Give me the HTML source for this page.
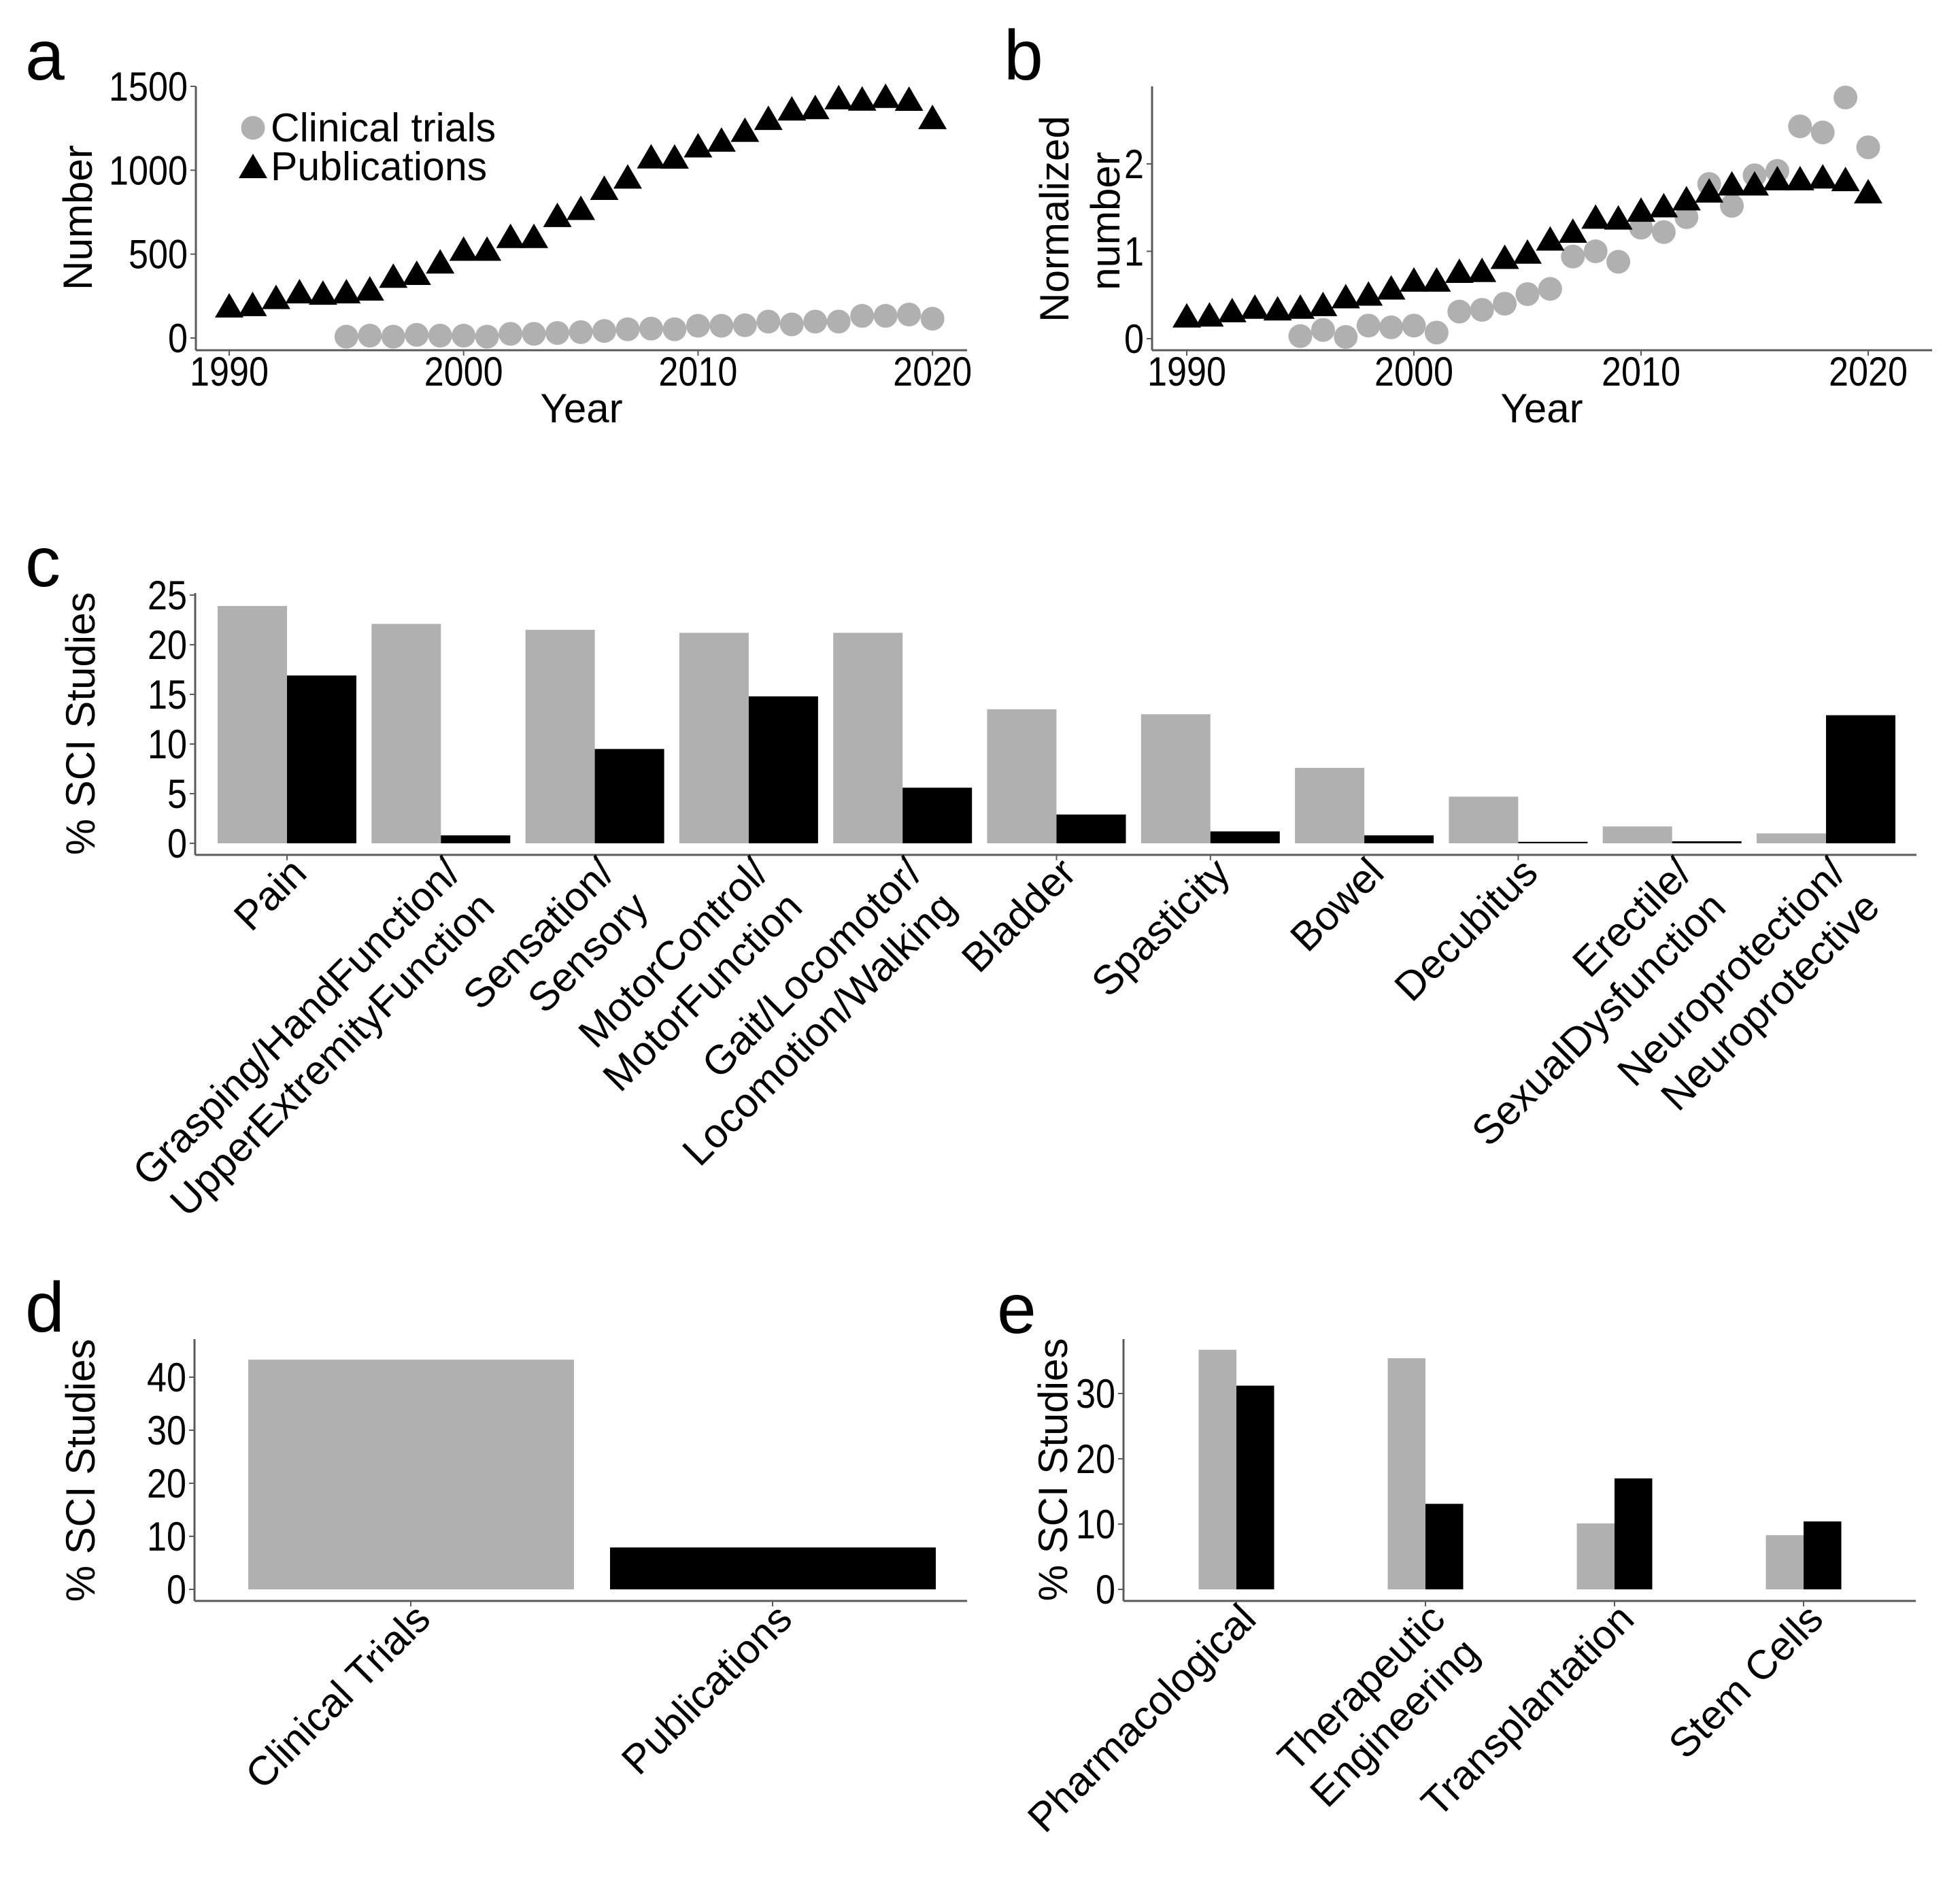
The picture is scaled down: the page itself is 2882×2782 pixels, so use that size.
<!DOCTYPE html>
<html><head><meta charset="utf-8"><title>SCI studies figure</title>
<style>
html,body{margin:0;padding:0;background:#fff;}
svg{display:block;font-family:"Liberation Sans",Arial,sans-serif;}
</style></head>
<body>
<svg id="fig" xmlns="http://www.w3.org/2000/svg" width="2882" height="2782" viewBox="0 0 2882 2782"></svg>
<script>
// ---- Panel a / b data ----
const yearsPub = [1990,1991,1992,1993,1994,1995,1996,1997,1998,1999,2000,2001,2002,2003,2004,2005,2006,2007,2008,2009,2010,2011,2012,2013,2014,2015,2016,2017,2018,2019,2020];
const pubCounts = [191,199,241,275,267,275,292,368,385,453,529,529,605,605,730,772,892,959,1079,1078,1145,1179,1238,1309,1365,1373,1432,1424,1440,1423,1314];
const yearsTrial = [1995,1996,1997,1998,1999,2000,2001,2002,2003,2004,2005,2006,2007,2008,2009,2010,2011,2012,2013,2014,2015,2016,2017,2018,2019,2020];
const trialCounts = [8,14,8,19,14,14,8,25,25,30,35,42,52,56,52,73,73,76,98,81,98,98,132,132,140,115];
const pubNorm = [0.26,0.27,0.32,0.36,0.34,0.36,0.39,0.48,0.51,0.58,0.67,0.67,0.77,0.78,0.93,0.99,1.14,1.23,1.39,1.38,1.47,1.52,1.60,1.69,1.77,1.77,1.83,1.83,1.85,1.82,1.68];
const trialNorm = [0.03,0.10,0.02,0.15,0.13,0.15,0.07,0.31,0.33,0.40,0.51,0.57,0.94,1.00,0.88,1.27,1.22,1.39,1.77,1.52,1.87,1.92,2.43,2.36,2.76,2.19];
const yearTicks = [1990,2000,2010,2020];
const aTicks = [0,500,1000,1500];
const bTicks = [0,1,2];
// ---- Panel c data ----
const cCategories = [["Pain"],["Grasping/HandFunction/","UpperExtremityFunction"],["Sensation/","Sensory"],["MotorControl/","MotorFunction"],["Gait/Locomotor/","Locomotion/Walking"],["Bladder"],["Spasticity"],["Bowel"],["Decubitus"],["Erectile/","SexualDysfunction"],["Neuroprotection/","Neuroprotective"]];
const cTrials = [23.9,22.1,21.5,21.2,21.2,13.5,13.0,7.6,4.7,1.7,1.0];
const cPubs = [16.9,0.8,9.5,14.8,5.6,2.9,1.2,0.8,0.15,0.2,12.9];
const cTicks = [0,5,10,15,20,25];
// ---- Panel d data ----
const dCategories = [["Clinical Trials"],["Publications"]];
const dValues = [43.3,7.9];
const dTicks = [0,10,20,30,40];
// ---- Panel e data ----
const eCategories = [["Pharmacological"],["Therapeutic","Engineering"],["Transplantation"],["Stem Cells"]];
const eTrials = [36.7,35.4,10.1,8.3];
const ePubs = [31.2,13.1,17.0,10.4];
const eTicks = [0,10,20,30];

const NS = "http://www.w3.org/2000/svg";
const svg = document.getElementById("fig");
const GRAY = "#b0b0b0", AX = "#5a5a5a";

function el(tag, attrs, parent, name) {
  const e = document.createElementNS(NS, tag);
  for (const k in attrs) e.setAttribute(k, attrs[k]);
  
  
  (parent || svg).appendChild(e);
  return e;
}
function text(x, y, s, size, anchor, name, extra) {
  const t = el("text", Object.assign({x: x, y: y, "font-size": size, "text-anchor": anchor, fill: "#000"}, extra || {}), svg, name);
  t.textContent = s;
  return t;
}
function tickLabel(x, y, s, anchor, name) {
  const t = text(x, y, s, 60, anchor, name, {textLength: 29 * s.length, lengthAdjust: "spacingAndGlyphs"});
  return t;
}
function axes(x0, x1, yTop, yBot, name) {
  el("line", {x1: x0, y1: yTop, x2: x0, y2: yBot, stroke: AX, "stroke-width": 3}, svg, name + "-y-axis");
  el("line", {x1: x0, y1: yBot, x2: x1, y2: yBot, stroke: AX, "stroke-width": 3}, svg, name + "-x-axis");
}
function yTicks(x0, ticks, ys, name) {
  ticks.forEach(v => {
    el("line", {x1: x0 - 8, y1: ys(v), x2: x0, y2: ys(v), stroke: AX, "stroke-width": 2}, svg, name + "-y-tick");
    tickLabel(x0 - 12, ys(v) + 21, String(v), "end", name + "-y-tick-label");
  });
}
function xTickMark(x, yBot, name) {
  el("line", {x1: x, y1: yBot, x2: x, y2: yBot + 8, stroke: AX, "stroke-width": 2}, svg, name + "-x-tick");
}
function rotTitle(x, y, s, name) {
  text(x, y, s, 60, "middle", name, {transform: "rotate(-90 " + x + " " + y + ")"});
}
function catLabel(tx, axisY, lines, name) {
  lines.forEach((ln, i) => {
    const x = tx + 32 + i * 50, y = axisY + 30 + i * 50;
    text(x, y, ln, 60, "end", name, {transform: "rotate(-45 " + x + " " + y + ")"});
  });
}
function tri(cx, cy, name) {
  el("polygon", {points: cx + "," + (cy - 19) + " " + (cx - 21) + "," + (cy + 17) + " " + (cx + 21) + "," + (cy + 17), fill: "#000"}, svg, name);
}
function dot(cx, cy, name) {
  el("circle", {cx: cx, cy: cy, r: 17.5, fill: GRAY}, svg, name);
}

// ---------- Panel a ----------
(function () {
  const xs = y => 337 + (y - 1990) * 34.47;
  const ys = v => 497 - v * 0.2467;
  text(37, 117, "a", 104, "start", "panel-a-letter");
  axes(288, 1422, 127, 515, "panel-a");
  yTicks(288, aTicks, ys, "panel-a");
  yearTicks.forEach(y => { xTickMark(xs(y), 515, "panel-a"); tickLabel(xs(y), 567, String(y), "middle", "panel-a-x-tick-label"); });
  text(855, 621, "Year", 60, "middle", "panel-a-x-axis-title");
  rotTitle(135, 320, "Number", "panel-a-y-axis-title");
  yearsTrial.forEach((y, i) => dot(xs(y), ys(trialCounts[i]), "trial-point-a"));
  yearsPub.forEach((y, i) => tri(xs(y), ys(pubCounts[i]), "publication-point-a"));
  dot(372, 188, "legend-trials-marker");
  text(398, 208, "Clinical trials", 59, "start", "legend-trials-label");
  tri(372, 245, "legend-publications-marker");
  text(398, 265, "Publications", 59, "start", "legend-publications-label");
})();

// ---------- Panel b ----------
(function () {
  const xs = y => 1745 + (y - 1990) * 33.4;
  const ys = v => 498 - v * 128.5;
  text(1476, 117, "b", 104, "start", "panel-b-letter");
  axes(1694, 2841, 127, 515, "panel-b");
  yTicks(1694, bTicks, ys, "panel-b");
  yearTicks.forEach(y => { xTickMark(xs(y), 515, "panel-b"); tickLabel(xs(y), 567, String(y), "middle", "panel-b-x-tick-label"); });
  text(2267, 621, "Year", 60, "middle", "panel-b-x-axis-title");
  rotTitle(1571, 322, "Normalized", "panel-b-y-axis-title-line1");
  rotTitle(1646, 325, "number", "panel-b-y-axis-title-line2");
  yearsTrial.forEach((y, i) => dot(xs(y), ys(trialNorm[i]), "trial-point-b"));
  yearsPub.forEach((y, i) => tri(xs(y), ys(pubNorm[i]), "publication-point-b"));
})();

// ---------- Panel c ----------
(function () {
  const ys = v => 1240 - v * 14.6;
  const cx = i => 422 + i * 226.3;
  text(37, 862, "c", 104, "start", "panel-c-letter");
  axes(287, 2818, 872, 1257, "panel-c");
  yTicks(287, cTicks, ys, "panel-c");
  rotTitle(139, 1064, "% SCI Studies", "panel-c-y-axis-title");
  cCategories.forEach((c, i) => {
    el("rect", {x: cx(i) - 102, y: ys(cTrials[i]), width: 102, height: ys(0) - ys(cTrials[i]), fill: GRAY}, svg, "bar-trials-c");
    el("rect", {x: cx(i), y: ys(cPubs[i]), width: 102, height: ys(0) - ys(cPubs[i]), fill: "#000"}, svg, "bar-publications-c");
    xTickMark(cx(i), 1257, "panel-c");
    catLabel(cx(i), 1257, c, "panel-c-category-label");
  });
})();

// ---------- Panel d ----------
(function () {
  const ys = v => 2337 - v * 7.8;
  const cx = i => 604 + i * 532;
  text(37, 1958, "d", 104, "start", "panel-d-letter");
  axes(286, 1422, 1969, 2354, "panel-d");
  yTicks(286, dTicks, ys, "panel-d");
  rotTitle(139, 2162, "% SCI Studies", "panel-d-y-axis-title");
  dCategories.forEach((c, i) => {
    el("rect", {x: cx(i) - 239, y: ys(dValues[i]), width: 479, height: ys(0) - ys(dValues[i]), fill: i === 0 ? GRAY : "#000"}, svg, "bar-d");
    xTickMark(cx(i), 2354, "panel-d");
    catLabel(cx(i), 2354, c, "panel-d-category-label");
  });
})();

// ---------- Panel e ----------
(function () {
  const ys = v => 2337 - v * 9.6;
  const cx = i => 1818 + i * 278;
  text(1466, 1960, "e", 104, "start", "panel-e-letter");
  axes(1652, 2817, 1969, 2354, "panel-e");
  yTicks(1652, eTicks, ys, "panel-e");
  rotTitle(1569, 2161, "% SCI Studies", "panel-e-y-axis-title");
  eCategories.forEach((c, i) => {
    el("rect", {x: cx(i) - 55.5, y: ys(eTrials[i]), width: 55.5, height: ys(0) - ys(eTrials[i]), fill: GRAY}, svg, "bar-trials-e");
    el("rect", {x: cx(i), y: ys(ePubs[i]), width: 55.5, height: ys(0) - ys(ePubs[i]), fill: "#000"}, svg, "bar-publications-e");
    xTickMark(cx(i), 2354, "panel-e");
    catLabel(cx(i), 2354, c, "panel-e-category-label");
  });
})();
</script>
</body></html>
